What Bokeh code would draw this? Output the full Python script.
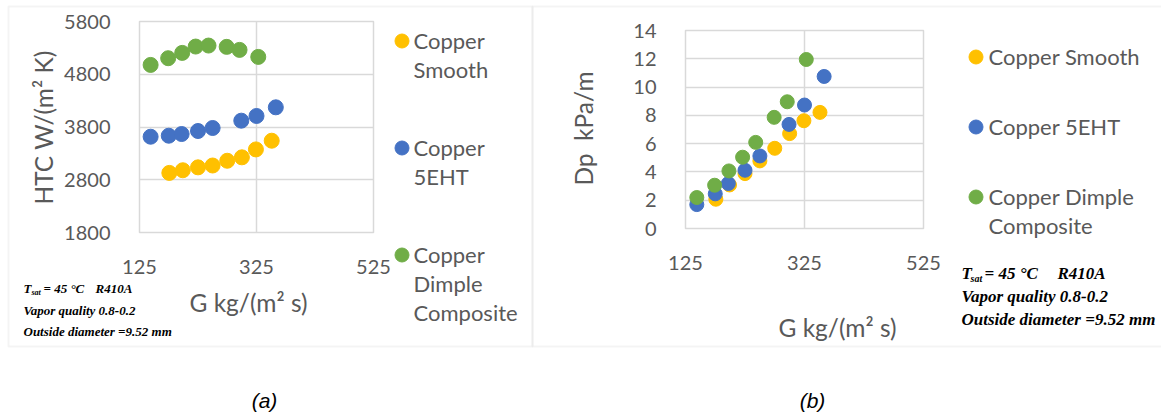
from math import pi

from bokeh.embed import file_html
from bokeh.models import (BoxAnnotation, FixedTicker, Label, Legend,
                          LegendItem, Range1d)
from bokeh.plotting import figure
from bokeh.resources import INLINE

# Mass flux G, kg/(m2 s), for each tube
g_smooth = [176, 199, 225, 250, 275, 300, 324, 351]
g_5eht = [144, 175, 197, 225, 250, 299, 325, 358]
g_dimple = [144, 174, 198, 221, 243, 274, 296, 328]

# Heat transfer coefficient, W/(m2 K)
htc_smooth = [2930, 2980, 3035, 3070, 3160, 3225, 3375, 3540]
htc_5eht = [3616, 3635, 3667, 3724, 3781, 3920, 4009, 4173]
htc_dimple = [4977, 5104, 5205, 5325, 5344, 5319, 5262, 5129]

# Pressure drop, kPa/m
dp_smooth = [2.07, 3.08, 3.88, 4.78, 5.67, 6.71, 7.62, 8.21]
dp_5eht = [1.69, 2.45, 3.18, 4.12, 5.13, 7.36, 8.73, 10.75]
dp_dimple = [2.19, 3.06, 4.07, 5.04, 6.09, 7.86, 8.96, 11.95]

# Legend wording, wrapped as in each panel
legend_a = [["Copper", "Smooth"], ["Copper", "5EHT"],
            ["Copper", "Dimple", "Composite"]]
legend_b = [["Copper Smooth"], ["Copper 5EHT"],
            ["Copper Dimple", "Composite"]]
colors = ["#FFC000", "#4472C4", "#70AD47"]

x_ticks = [125, 325, 525]
htc_ticks = [1800, 2800, 3800, 4800, 5800]
dp_ticks = [0, 2, 4, 6, 8, 10, 12, 14]

W, H = 1161, 414
WA = 532
WB = W - WA
FONT = "Lato"
TXT = "#595959"
GRID = "#d9d9d9"
NOTE_FONT = "Liberation Serif"
SW = 35  # legend swatch box


def placed(left):
    return {"position": "absolute", "left": f"{left}px", "top": "0px"}


def chart(x0, width, left, right, top, bottom, y_lo, y_hi, y_ticks):
    p = figure(width=width, height=H, output_backend="svg",
               toolbar_location=None, styles=placed(x0),
               x_range=Range1d(x_ticks[0], x_ticks[-1]),
               y_range=Range1d(y_lo, y_hi),
               min_border_left=left, min_border_right=right,
               min_border_top=top, min_border_bottom=bottom)
    p.background_fill_color = None
    p.border_fill_color = None
    p.outline_line_color = GRID
    p.outline_line_width = 1.5
    for ax, ticks in ((p.xaxis, x_ticks), (p.yaxis, y_ticks)):
        ax.ticker = FixedTicker(ticks=ticks)
        ax.axis_line_color = None
        ax.major_tick_line_color = None
        ax.minor_tick_line_color = None
        ax.major_label_text_font = FONT
        ax.major_label_text_font_size = "20px"
        ax.major_label_text_color = TXT
    p.xaxis.major_label_standoff = 21
    p.yaxis.major_label_standoff = 23
    p.xgrid.ticker = FixedTicker(ticks=x_ticks)
    p.ygrid.ticker = FixedTicker(ticks=y_ticks)
    for g in (p.xgrid, p.ygrid):
        g.grid_line_color = GRID
        g.grid_line_width = 1.5
    return p


# Page-wide layer for the panel frames, titles, notes and legends
bg = figure(width=W, height=H, output_backend="svg", toolbar_location=None,
            styles=placed(0),
            x_range=Range1d(0, W), y_range=Range1d(H, 0),
            x_axis_location=None, y_axis_location=None,
            min_border=0)
bg.grid.visible = False
bg.outline_line_color = None
bg.background_fill_color = "white"
bg.border_fill_color = "white"


def text(x, y, s, size, font=FONT, color=TXT, align="left",
         style="normal", angle=0.0):
    bg.add_layout(Label(x=x, y=y, text=s, text_font=font,
                        text_font_size=size, text_color=color,
                        text_align=align, text_baseline="middle",
                        text_font_style=style, angle=angle))


def notes(x, y0, dy, size, sub_size, sub_dy, t_w, sub_w, r_x):
    kw = dict(font=NOTE_FONT, color="black", style="bold italic")
    text(x, y0, "T", size, **kw)
    text(x + t_w, y0 + sub_dy, "sat", sub_size, **kw)
    text(x + t_w + sub_w, y0, "= 45 °C", size, **kw)
    text(r_x, y0, "R410A", size, **kw)
    text(x, y0 + dy, "Vapor quality 0.8-0.2", size, **kw)
    text(x, y0 + 2 * dy, "Outside diameter =9.52 mm", size, **kw)


for left, right in ((8, WA), (WA, W + 10)):
    bg.add_layout(BoxAnnotation(left=left, right=right, top=6, bottom=346,
                                fill_alpha=0, line_color=GRID, line_width=2))

# Hidden one-point renderers that give the legends their swatches
swatches = []
for g, v, c in zip((g_smooth, g_5eht, g_dimple),
                   (htc_smooth, htc_5eht, htc_dimple), colors):
    r = bg.scatter(x=g[:1], y=v[:1], size=15, color=c)
    r.visible = False
    swatches.append(r)


def legend(labels, mark_x, first_y, step, text_x, line_h):
    spacing = step - SW
    height = 3 * SW + 2 * spacing
    bottom = first_y - SW / 2 + height
    bg.add_layout(Legend(
        items=[LegendItem(label=" ", renderers=[r]) for r in swatches],
        location=(mark_x - SW / 2, H - bottom), padding=0, margin=0,
        glyph_width=SW, glyph_height=SW, label_height=SW, label_width=1,
        label_standoff=0, spacing=spacing, border_line_color=None,
        background_fill_alpha=0, label_text_font_size="1px"))
    for i, lines in enumerate(labels):
        for j, s in enumerate(lines):
            text(text_x, first_y + i * step + j * line_h, s, "22px")


# ---- (a) heat transfer coefficient ----
pa = chart(0, WA, 139, WA - 373, 21, H - 232, 1800, 5800, htc_ticks)
for g, v, c in zip((g_smooth, g_5eht, g_dimple),
                   (htc_smooth, htc_5eht, htc_dimple), colors):
    pa.scatter(g, v, size=15, color=c, line_color=c)

legend(legend_a, 401, 40, 107, 413, 29)
text(43, 127, "HTC W/(m² K)", "24.5px", angle=pi / 2, align="center")
text(248, 302, "G kg/(m² s)", "24.5px", align="center")
notes(23, 288, 21.5, "13px", "8px", 4, 8, 12, 95)
text(264, 400, "(a)", "21px", font="Liberation Sans", color="black",
     style="italic", align="center")

# ---- (b) pressure drop ----
pb = chart(WA, WB, 685 - WA, W - 923, 30, H - 228, 0, 14, dp_ticks)
for g, v, c in zip((g_smooth, g_5eht, g_dimple),
                   (dp_smooth, dp_5eht, dp_dimple), colors):
    pb.scatter(g, v, size=14, color=c, line_color=c)

legend(legend_b, 975, 56, 70, 988, 28.5)
text(583, 128, "Dp\u00a0 kPa/m", "24.5px", angle=pi / 2, align="center")
text(837, 327, "G kg/(m² s)", "24.5px", align="center")
notes(961, 273, 23, "17px", "10px", 5, 9, 14, 1057)
text(812, 400, "(b)", "21px", font="Liberation Sans", color="black",
     style="italic", align="center")

open("out.html", "w").write(file_html([bg, pa, pb], INLINE))
